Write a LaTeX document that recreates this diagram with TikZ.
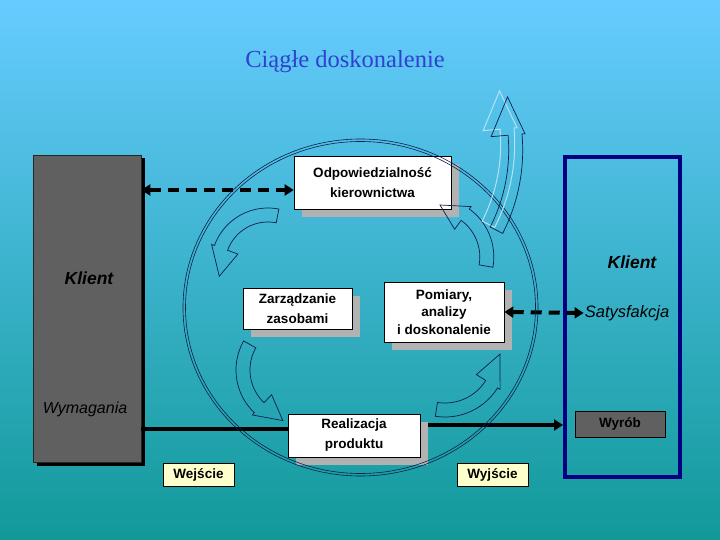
\documentclass[tikz,border=0pt]{standalone}
\usepackage{fontspec}
\setmainfont{Liberation Sans}
\newfontfamily\titlefont{Liberation Serif}
\usetikzlibrary{arrows.meta,shadows}
\definecolor{bgtop}{HTML}{66CCFF}
\definecolor{bgbot}{HTML}{119999}
\definecolor{titleblue}{HTML}{3040D0}
\definecolor{navyframe}{HTML}{000080}
\definecolor{lineblue}{HTML}{0D1F4A}
\definecolor{ghostcol}{HTML}{B4E2F4}
\definecolor{shadowgray}{HTML}{B2B2B2}
\definecolor{klientgray}{HTML}{606060}
\definecolor{cream}{HTML}{FFFFCC}
% curved block arrow: cx, cy, r, tail angle, neck angle, tip angle, half width, inner barb, outer barb
\newcommand{\carr}[9]{%
 \draw[arrowline] plot[domain=#4:#5, samples=30] ({#1+(#3+#7)*cos(\x)},{#2+(#3+#7)*sin(\x)})
 -- ({#1+(#3+#9)*cos(#5)},{#2+(#3+#9)*sin(#5)})
 -- ({#1+#3*cos(#6)},{#2+#3*sin(#6)})
 -- ({#1+(#3-#8)*cos(#5)},{#2+(#3-#8)*sin(#5)})
 -- plot[domain=#5:#4, samples=30] ({#1+(#3-#7)*cos(\x)},{#2+(#3-#7)*sin(\x)})
 -- cycle;}
\tikzset{
 box/.style={draw=black, line width=0.6pt, fill=white, align=center, inner sep=0pt,
   font=\fontsize{13.5}{20}\selectfont\bfseries,
   general shadow={fill=shadowgray, shadow xshift=8pt, shadow yshift=-8pt}},
 ioBox/.style={draw=black, line width=0.6pt, fill=cream, inner sep=0pt,
   minimum width=71pt, minimum height=23pt, font=\fontsize{13.5}{16}\selectfont\bfseries},
 bigklient/.style={fill=klientgray, draw=black!85, line width=0.6pt,
   general shadow={fill=black, shadow xshift=3.5pt, shadow yshift=-3.5pt}},
 frameklient/.style={draw=navyframe, line width=4pt},
 boldlab/.style={font=\fontsize{17.5}{20}\selectfont\bfseries\itshape},
 itlab/.style={font=\fontsize{16}{20}\selectfont\itshape},
 solidline/.style={line width=4pt, black},
 dashline/.style={line width=4pt, black, dash pattern=on 11pt off 7pt},
 tip/.tip={Triangle[length=9pt,width=11pt]},
 arrowline/.style={draw=lineblue, line width=0.7pt},
 circline/.style={draw=lineblue, line width=0.6pt}
}
\begin{document}
\begin{tikzpicture}[x=1pt,y=-1pt]
\useasboundingbox (0,0) rectangle (720,540);
\shade[top color=bgtop, bottom color=bgbot] (0,0) rectangle (720,540);
% title
\node[font=\titlefont\fontsize{24.5}{28}\selectfont, text=titleblue] (title) at (345,62) {Ciągłe doskonalenie};
% clients
\node[bigklient, minimum width=108pt, minimum height=307pt] (lk) at (87,308.5) {};
\node[frameklient, minimum width=115pt, minimum height=320pt] (rk) at (622.5,317) {};
\node[boldlab] (lkl) at (89,278) {Klient};
\node[itlab] (wym) at (85,409) {Wymagania};
\node[boldlab] (rkl) at (632,262) {Klient};
\node[itlab, font=\fontsize{16.5}{20}\selectfont\itshape, inner sep=1pt] (sat) at (627,313) {Satysfakcja};
\node[draw=black, line width=0.6pt, fill=klientgray, minimum width=90pt, minimum height=26pt, inner sep=0pt,
  font=\fontsize{13.5}{16}\selectfont\bfseries] (wyr) at (620,424) {Wyrób};
% process boxes
\node[box, minimum width=157pt, minimum height=53pt] (odp) at (372.5,182.5) {Odpowiedzialność\\kierownictwa};
\node[box, minimum width=109pt, minimum height=41pt] (zas) at (297.5,308.5) {Zarządzanie\\zasobami};
\node[box, minimum width=120pt, minimum height=60pt, font=\fontsize{13.5}{17.5}\selectfont\bfseries] (pom) at (444,312) {Pomiary,\\analizy\\i doskonalenie};
% lines behind Realizacja
\draw[solidline] ([yshift=6.5pt]lk.east |- 0,435.5) -- ([yshift=6.5pt]354,435.5);
\draw[solidline, -tip] ([yshift=10.5pt]354,435.5) -- ([yshift=10.5pt]354,435.5 -| rk.west);
\node[box, minimum width=132pt, minimum height=43pt] (real) at (354,435.5) {Realizacja\\produktu};
\node[ioBox] (wej) at (198.5,474.5) {Wejście};
\node[ioBox] (wyj) at (492.5,474.5) {Wyjście};
% dashed connectors
\draw[dashline, tip-tip] ([yshift=-7.5pt]odp.west -| lk.east) -- ([yshift=-7.5pt]odp.west);
\draw[dashline, tip-tip] (pom.east) -- (sat.west);
% circle
\draw[circline] (360.5,307.5) ellipse [x radius=177.5pt, y radius=168.5pt];
\draw[circline] (360.5,307.5) ellipse [x radius=175pt, y radius=166pt];
% curved arrows
\carr{268}{265}{50}{-79}{-160}{-193}{7}{18}{10}
\carr{295}{370}{52}{209.5}{133.5}{103.5}{7}{18}{10}
\carr{445}{355}{55}{99}{32}{-1}{7}{18}{10}
\carr{434.5}{257}{52.3}{10}{-54}{-84}{7}{18}{10}
\begin{scope}[shift={(-8,-6)}, arrowline/.style={draw=ghostcol, line width=1pt}]
\carr{339}{150}{176.7}{27}{-5}{-17.5}{7}{24}{10}
\end{scope}
\carr{339}{150}{176.7}{27}{-5}{-17.5}{7}{24}{10}
\end{tikzpicture}
\end{document}
